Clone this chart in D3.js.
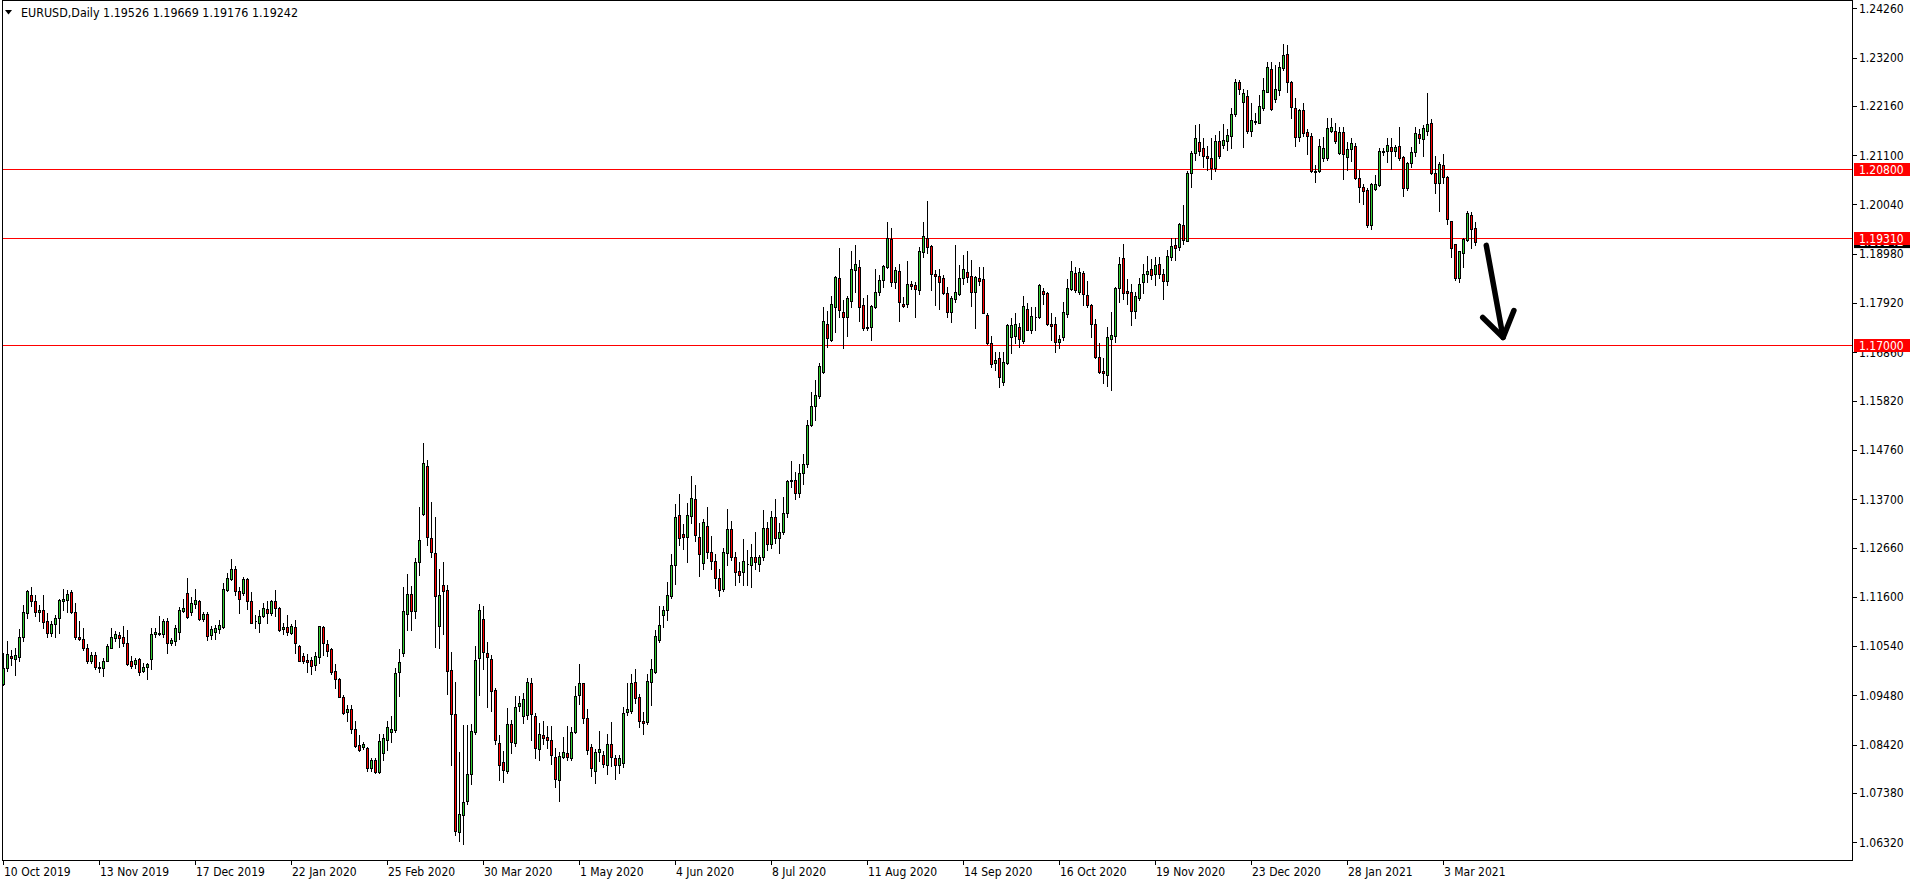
<!DOCTYPE html>
<html><head><meta charset="utf-8">
<script src="https://cdn.jsdelivr.net/npm/d3@7"></script>
<style>
html,body{margin:0;padding:0;background:#fff;overflow:hidden}
svg{display:block}
text{font-family:"DejaVu Sans Condensed","Liberation Sans",sans-serif;font-size:12px}
</style></head><body>
<svg id="chart" width="1916" height="884"></svg>
<script>
// ---------------- data ----------------
const symbol = "EURUSD,Daily";
const firstDate = "2019-10-10";
const holidays = ["2019-12-25","2020-01-01","2020-12-25","2021-01-01"];

const open = [
1.0973,1.1006,1.1033,1.1026,1.1030,1.1073,1.1125,1.1164,1.1151,1.1127,
1.1132,1.1108,1.1082,1.1101,1.1114,1.1152,1.1153,1.1170,1.1127,1.1074,
1.1069,1.1051,1.1022,1.1035,1.1009,1.1008,1.1022,1.1051,1.1072,1.1078,
1.1073,1.1060,1.1022,1.1015,1.1026,1.1001,1.1010,1.1026,1.1079,1.1079,
1.1080,1.1107,1.1060,1.1064,1.1085,1.1130,1.1169,1.1128,1.1144,1.1151,
1.1112,1.1123,1.1078,1.1085,1.1090,1.1096,1.1175,1.1198,1.1219,1.1173,
1.1168,1.1198,1.1151,1.1107,1.1104,1.1119,1.1134,1.1126,1.1151,1.1135,
1.1090,1.1095,1.1083,1.1095,1.1054,1.1033,1.1024,1.1024,1.1013,1.1031,
1.1096,1.1059,1.1047,1.1001,1.0983,1.0945,1.0912,1.0918,1.0875,1.0841,
1.0836,1.0834,1.0791,1.0809,1.0784,1.0825,1.0853,1.0870,1.0874,1.0999,
1.1039,1.1124,1.1167,1.1129,1.1234,1.1338,1.1441,1.1286,1.1255,1.1098,
1.1186,1.1174,1.1003,1.0908,1.0655,1.0691,1.0720,1.0779,1.0870,1.1029,
1.1113,1.1040,1.1027,1.0959,1.0846,1.0805,1.0786,1.0886,1.0845,1.0926,
1.0903,1.0905,1.0975,1.0903,1.0832,1.0862,1.0858,1.0853,1.0815,1.0767,
1.0815,1.0824,1.0813,1.0870,1.0948,1.0974,1.0899,1.0836,1.0786,1.0827,
1.0820,1.0799,1.0843,1.0813,1.0799,1.0803,1.0913,1.0915,1.0977,1.0945,
1.0893,1.0891,1.0977,1.0998,1.1067,1.1122,1.1131,1.1162,1.1229,1.1335,
1.1295,1.1288,1.1333,1.1370,1.1288,1.1232,1.1313,1.1257,1.1238,1.1200,
1.1176,1.1254,1.1305,1.1246,1.1215,1.1213,1.1231,1.1229,1.1246,1.1231,
1.1246,1.1309,1.1274,1.1332,1.1287,1.1300,1.1341,1.1410,1.1412,1.1383,
1.1426,1.1446,1.1530,1.1570,1.1591,1.1644,1.1746,1.1713,1.1784,1.1845,
1.1772,1.1763,1.1797,1.1863,1.1869,1.1787,1.1741,1.1740,1.1784,1.1815,
1.1842,1.1870,1.1930,1.1838,1.1861,1.1791,1.1791,1.1834,1.1830,1.1819,
1.1901,1.1931,1.1914,1.1855,1.1850,1.1845,1.1813,1.1773,1.1801,1.1811,
1.1845,1.1859,1.1850,1.1815,1.1846,1.1843,1.1766,1.1707,1.1662,1.1673,
1.1622,1.1662,1.1720,1.1721,1.1741,1.1711,1.1779,1.1734,1.1762,1.1761,
1.1817,1.1813,1.1747,1.1747,1.1708,1.1718,1.1769,1.1822,1.1856,1.1816,
1.1856,1.1809,1.1788,1.1746,1.1675,1.1646,1.1637,1.1714,1.1722,1.1824,
1.1888,1.1818,1.1816,1.1774,1.1802,1.1838,1.1854,1.1865,1.1854,1.1875,
1.1854,1.1840,1.1892,1.1916,1.1912,1.1960,1.1926,1.2071,1.2114,1.2138,
1.2125,1.2108,1.2103,1.2082,1.2141,1.2132,1.2141,1.2152,1.2199,1.2267,
1.2224,1.2237,1.2161,1.2184,1.2180,1.2211,1.2247,1.2295,1.2230,1.2250,
1.2297,1.2327,1.2267,1.2211,1.2150,1.2207,1.2159,1.2152,1.2076,1.2075,
1.2105,1.2103,1.2161,1.2161,1.2114,1.2159,1.2107,1.2123,1.2129,1.2060,
1.2041,1.2035,1.1960,1.2037,1.2046,1.2117,1.2118,1.2128,1.2118,1.2130,
1.2106,1.2039,1.2093,1.2116,1.2155,1.2144,1.2161,1.2179,1.2071,1.2050,
1.2088,1.2064,1.1968,1.1918,1.1845,1.1900,1.1928,1.1981,1.19526];

const high = [
1.1039,1.1065,1.1046,1.1049,1.1090,1.1142,1.1175,1.1182,1.1164,1.1142,
1.1164,1.1126,1.1107,1.1121,1.1155,1.1176,1.1175,1.1175,1.1146,1.1107,
1.1092,1.1058,1.1041,1.1041,1.1019,1.1028,1.1058,1.1092,1.1087,1.1085,
1.1098,1.1089,1.1033,1.1029,1.1029,1.1017,1.1018,1.1092,1.1094,1.1119,
1.1112,1.1114,1.1071,1.1099,1.1139,1.1155,1.1201,1.1160,1.1176,1.1153,
1.1128,1.1128,1.1098,1.1099,1.1110,1.1189,1.1211,1.1241,1.1226,1.1182,
1.1202,1.1200,1.1171,1.1121,1.1132,1.1146,1.1150,1.1153,1.1175,1.1139,
1.1103,1.1121,1.1101,1.1110,1.1056,1.1039,1.1036,1.1031,1.1041,1.1097,
1.1097,1.1067,1.1051,1.1015,1.0986,1.0949,1.0927,1.0927,1.0892,1.0863,
1.0848,1.0838,1.0813,1.0813,1.0864,1.0866,1.0893,1.0904,1.1007,1.1048,
1.1181,1.1210,1.1184,1.1243,1.1353,1.1491,1.1454,1.1364,1.1331,1.1219,
1.1234,1.1186,1.1041,1.0977,1.0826,1.0884,1.0884,1.0886,1.1055,1.1145,
1.1141,1.1062,1.1034,1.0964,1.0862,1.0829,1.0921,1.0896,1.0946,1.0946,
1.0953,1.0986,1.0986,1.0910,1.0889,1.0893,1.0882,1.0883,1.0834,1.0826,
1.0858,1.0883,1.0880,1.0969,1.1015,1.0975,1.0919,1.0843,1.0832,1.0872,
1.0829,1.0864,1.0891,1.0820,1.0820,1.0924,1.0975,1.0994,1.1005,1.0950,
1.0912,1.0994,1.1026,1.1089,1.1141,1.1141,1.1193,1.1253,1.1359,1.1381,
1.1316,1.1362,1.1419,1.1400,1.1319,1.1327,1.1353,1.1291,1.1253,1.1219,
1.1265,1.1348,1.1324,1.1257,1.1236,1.1284,1.1260,1.1274,1.1300,1.1250,
1.1346,1.1320,1.1345,1.1371,1.1318,1.1375,1.1412,1.1452,1.1429,1.1446,
1.1468,1.1540,1.1601,1.1627,1.1662,1.1783,1.1775,1.1807,1.1850,1.1910,
1.1799,1.1807,1.1905,1.1917,1.1885,1.1802,1.1809,1.1788,1.1865,1.1852,
1.1874,1.1966,1.1953,1.1869,1.1877,1.1806,1.1883,1.1840,1.1837,1.1912,
1.1966,1.2012,1.1917,1.1863,1.1865,1.1852,1.1827,1.1808,1.1917,1.1874,
1.1895,1.1903,1.1885,1.1851,1.1870,1.1870,1.1771,1.1722,1.1687,1.1687,
1.1687,1.1747,1.1759,1.1770,1.1748,1.1807,1.1793,1.1784,1.1783,1.1834,
1.1824,1.1816,1.1771,1.1763,1.1723,1.1795,1.1843,1.1882,1.1870,1.1867,
1.1860,1.1840,1.1791,1.1757,1.1705,1.1673,1.1741,1.1773,1.1827,1.1892,
1.1920,1.1843,1.1834,1.1816,1.1845,1.1877,1.1894,1.1886,1.1890,1.1890,
1.1865,1.1906,1.1931,1.1931,1.1965,1.2003,1.2075,1.2120,1.2175,1.2177,
1.2146,1.2130,1.2146,1.2154,1.2163,1.2177,1.2166,1.2212,1.2273,1.2272,
1.2252,1.2250,1.2222,1.2200,1.2240,1.2277,1.2310,1.2310,1.2303,1.2310,
1.2349,1.2346,1.2270,1.2232,1.2209,1.2223,1.2166,1.2157,1.2089,1.2145,
1.2150,1.2189,1.2189,1.2179,1.2171,1.2171,1.2139,1.2146,1.2136,1.2078,
1.2047,1.2039,1.2051,1.2067,1.2125,1.2125,1.2146,1.2148,1.2132,1.2170,
1.2108,1.2096,1.2127,1.2170,1.2166,1.2176,1.2243,1.2187,1.2109,1.2095,
1.2112,1.2066,1.1969,1.1920,1.1905,1.1931,1.1990,1.1988,1.19669];

const low = [
1.0970,1.1001,1.1013,1.0992,1.1023,1.1066,1.1115,1.1140,1.1119,1.1107,
1.1094,1.1074,1.1076,1.1074,1.1082,1.1132,1.1128,1.1126,1.1069,1.1067,
1.1046,1.1018,1.1017,1.1005,1.0998,1.0990,1.1021,1.1049,1.1064,1.1053,
1.1054,1.1013,1.1008,1.1006,1.0992,1.0998,1.0983,1.1004,1.1074,1.1078,
1.1074,1.1040,1.1056,1.1056,1.1069,1.1128,1.1114,1.1121,1.1137,1.1110,
1.1108,1.1067,1.1069,1.1069,1.1083,1.1094,1.1173,1.1197,1.1164,1.1126,
1.1164,1.1134,1.1103,1.1094,1.1085,1.1116,1.1104,1.1121,1.1119,1.1087,
1.1079,1.1078,1.1079,1.1039,1.1021,1.1017,1.0999,1.0993,1.1003,1.1018,
1.1035,1.1033,1.0995,1.0963,1.0944,1.0909,1.0892,1.0868,1.0838,1.0828,
1.0832,1.0785,1.0785,1.0780,1.0782,1.0809,1.0831,1.0848,1.0870,1.0946,
1.1032,1.1089,1.1089,1.1115,1.1207,1.1336,1.1272,1.1245,1.1053,1.1050,
1.1079,1.0951,1.0798,1.0648,1.0634,1.0629,1.0715,1.0758,1.0865,1.0948,
1.1005,1.0924,1.0915,1.0843,1.0767,1.0762,1.0782,1.0824,1.0839,1.0915,
1.0889,1.0898,1.0851,1.0813,1.0808,1.0843,1.0834,1.0801,1.0750,1.0721,
1.0813,1.0808,1.0810,1.0867,1.0929,1.0889,1.0822,1.0775,1.0760,1.0807,
1.0794,1.0779,1.0796,1.0769,1.0782,1.0794,1.0905,1.0910,1.0931,1.0880,
1.0864,1.0886,1.0927,1.0996,1.1062,1.1096,1.1110,1.1157,1.1188,1.1272,
1.1262,1.1235,1.1319,1.1281,1.1205,1.1219,1.1243,1.1219,1.1178,1.1162,
1.1172,1.1229,1.1240,1.1186,1.1191,1.1186,1.1186,1.1181,1.1219,1.1216,
1.1240,1.1260,1.1264,1.1275,1.1254,1.1295,1.1331,1.1397,1.1371,1.1375,
1.1402,1.1440,1.1527,1.1540,1.1587,1.1641,1.1698,1.1710,1.1730,1.1761,
1.1696,1.1722,1.1784,1.1816,1.1754,1.1734,1.1733,1.1713,1.1781,1.1809,
1.1826,1.1867,1.1829,1.1824,1.1754,1.1783,1.1783,1.1822,1.1763,1.1811,
1.1892,1.1900,1.1820,1.1788,1.1779,1.1811,1.1763,1.1752,1.1795,1.1809,
1.1834,1.1838,1.1786,1.1738,1.1831,1.1770,1.1704,1.1655,1.1648,1.1612,
1.1616,1.1661,1.1685,1.1705,1.1697,1.1707,1.1733,1.1728,1.1733,1.1759,
1.1790,1.1745,1.1713,1.1687,1.1695,1.1713,1.1761,1.1820,1.1816,1.1811,
1.1788,1.1784,1.1718,1.1673,1.1641,1.1621,1.1614,1.1604,1.1709,1.1795,
1.1800,1.1790,1.1745,1.1760,1.1799,1.1813,1.1838,1.1843,1.1831,1.1845,
1.1800,1.1831,1.1885,1.1885,1.1906,1.1920,1.1926,1.2041,1.2100,1.2110,
1.2084,1.2078,1.2058,1.2075,1.2103,1.2125,1.2121,1.2126,1.2194,1.2241,
1.2128,1.2157,1.2151,1.2177,1.2179,1.2207,1.2245,1.2207,1.2225,1.2240,
1.2293,1.2245,1.2191,1.2130,1.2141,1.2151,1.2112,1.2073,1.2053,1.2073,
1.2098,1.2100,1.2159,1.2137,1.2113,1.2058,1.2078,1.2097,1.2059,1.2010,
1.2004,1.1956,1.1951,1.2035,1.2044,1.2110,1.2096,1.2080,1.2108,1.2100,
1.2023,1.2035,1.2085,1.2108,1.2137,1.2108,1.2154,1.2069,1.2028,1.1991,
1.2050,1.1962,1.1892,1.1842,1.1837,1.1869,1.1926,1.1910,1.19176];

const close = [
1.1006,1.1036,1.1028,1.1035,1.1073,1.1127,1.1173,1.1150,1.1127,1.1132,
1.1105,1.1082,1.1101,1.1114,1.1153,1.1155,1.1166,1.1128,1.1074,1.1069,
1.1051,1.1021,1.1035,1.1010,1.1008,1.1022,1.1054,1.1073,1.1079,1.1072,
1.1060,1.1016,1.1012,1.1024,1.0999,1.1010,1.1016,1.1080,1.1085,1.1082,
1.1107,1.1061,1.1067,1.1094,1.1132,1.1135,1.1117,1.1147,1.1153,1.1112,
1.1123,1.1076,1.1091,1.1094,1.1099,1.1176,1.1200,1.1220,1.1173,1.1155,
1.1198,1.1152,1.1104,1.1108,1.1119,1.1135,1.1126,1.1151,1.1135,1.1089,
1.1095,1.1084,1.1097,1.1060,1.1023,1.1021,1.1019,1.1012,1.1033,1.1097,
1.1061,1.1044,1.0998,1.0983,1.0945,1.0911,1.0918,1.0875,1.0840,1.0831,
1.0843,1.0791,1.0809,1.0784,1.0850,1.0856,1.0881,1.0875,1.0996,1.1020,
1.1129,1.1167,1.1129,1.1234,1.1283,1.1448,1.1288,1.1257,1.1162,1.1165,
1.1172,1.1000,1.0908,1.0656,1.0693,1.0718,1.0779,1.0872,1.1024,1.1131,
1.1041,1.1031,1.0958,1.0851,1.0798,1.0788,1.0886,1.0848,1.0924,1.0931,
1.0940,1.0977,1.0908,1.0834,1.0865,1.0857,1.0851,1.0820,1.0769,1.0817,
1.0826,1.0815,1.0869,1.0946,1.0975,1.0899,1.0831,1.0791,1.0827,1.0832,
1.0801,1.0843,1.0815,1.0799,1.0813,1.0910,1.0919,1.0975,1.0943,1.0893,
1.0889,1.0978,1.1005,1.1075,1.1100,1.1131,1.1164,1.1229,1.1331,1.1286,
1.1289,1.1335,1.1372,1.1293,1.1253,1.1321,1.1257,1.1238,1.1200,1.1174,
1.1257,1.1305,1.1245,1.1213,1.1207,1.1238,1.1230,1.1246,1.1235,1.1245,
1.1309,1.1274,1.1332,1.1287,1.1300,1.1341,1.1410,1.1412,1.1383,1.1426,
1.1446,1.1530,1.1570,1.1595,1.1657,1.1753,1.1716,1.1789,1.1847,1.1777,
1.1763,1.1802,1.1865,1.1877,1.1784,1.1738,1.1738,1.1785,1.1815,1.1842,
1.1871,1.1931,1.1838,1.1862,1.1795,1.1786,1.1834,1.1829,1.1822,1.1905,
1.1936,1.1912,1.1854,1.1851,1.1838,1.1813,1.1773,1.1802,1.1815,1.1845,
1.1865,1.1847,1.1816,1.1847,1.1840,1.1771,1.1705,1.1660,1.1669,1.1632,
1.1666,1.1745,1.1745,1.1747,1.1715,1.1786,1.1734,1.1764,1.1763,1.1831,
1.1811,1.1746,1.1743,1.1708,1.1714,1.1772,1.1824,1.1861,1.1820,1.1858,
1.1811,1.1788,1.1746,1.1675,1.1644,1.1641,1.1720,1.1723,1.1824,1.1875,
1.1813,1.1814,1.1774,1.1807,1.1834,1.1854,1.1861,1.1852,1.1874,1.1855,
1.1840,1.1893,1.1915,1.1911,1.1962,1.1928,1.2071,1.2114,1.2148,1.2120,
1.2109,1.2105,1.2082,1.2141,1.2109,1.2142,1.2153,1.2199,1.2267,1.2252,
1.2243,1.2161,1.2186,1.2181,1.2215,1.2250,1.2299,1.2209,1.2252,1.2299,
1.2326,1.2268,1.2214,1.2150,1.2207,1.2157,1.2152,1.2075,1.2074,1.2130,
1.2125,1.2169,1.2171,1.2141,1.2159,1.2112,1.2123,1.2136,1.2060,1.2042,
1.2034,1.1960,1.2048,1.2049,1.2119,1.2119,1.2132,1.2118,1.2128,1.2103,
1.2040,1.2094,1.2116,1.2157,1.2148,1.2168,1.2177,1.2071,1.2050,1.2091,
1.2064,1.1972,1.1910,1.1845,1.1903,1.1930,1.1986,1.1951,1.19242];

const yTickLabels = ["1.24260","1.23200","1.22160","1.21100","1.20040","1.18980","1.17920","1.16860",
  "1.15820","1.14760","1.13700","1.12660","1.11600","1.10540","1.09480","1.08420","1.07380","1.06320"];
const xTickLabels = ["10 Oct 2019","13 Nov 2019","17 Dec 2019","22 Jan 2020","25 Feb 2020","30 Mar 2020",
  "1 May 2020","4 Jun 2020","8 Jul 2020","11 Aug 2020","14 Sep 2020","16 Oct 2020","19 Nov 2020",
  "23 Dec 2020","28 Jan 2021","3 Mar 2021"];
const levels = [1.20800, 1.19310, 1.17000];
// hand-drawn arrow annotation (bar index, price)
const arrowFrom = {bar: 370.7, price: 1.1916};
const arrowTo   = {bar: 374.9, price: 1.1718};
const arrowArms = [{bar: 369.8, price: 1.1761}, {bar: 377.6, price: 1.1776}];

// ---------------- chart ----------------
const svg = d3.select("#chart");
const plotLeft = 2, plotRight = 1852, plotBottom = 860;
const n = open.length;

const parse = d3.utcParse("%Y-%m-%d"), fmtKey = d3.utcFormat("%Y-%m-%d"), fmtLabel = d3.utcFormat("%-d %b %Y");
const dates = [];
let d = parse(firstDate);
while (dates.length < n) {
  const wd = d.getUTCDay();
  if (wd !== 0 && wd !== 6 && !holidays.includes(fmtKey(d))) dates.push(d);
  d = d3.utcDay.offset(d, 1);
}
const bars = d3.range(n).map(i => ({i, date: dates[i], o: open[i], h: high[i], l: low[i], c: close[i]}));

const x = d3.scaleLinear().domain([0, n - 1]).range([3.5, 3.5 + 4 * (n - 1)]);
const y = d3.scaleLinear().domain([+yTickLabels[yTickLabels.length - 1], +yTickLabels[0]]).range([842.3, 8.3]);
const py = v => Math.round(y(v)) + 0.5;

const BULL = "#32CD32", BEAR = "#FF0000";

// frame
const frame = svg.append("g").attr("shape-rendering", "crispEdges").attr("stroke", "#000").attr("stroke-width", 1);
frame.append("line").attr("x1", plotLeft + 0.5).attr("x2", plotLeft + 0.5).attr("y1", 0).attr("y2", plotBottom + 1);
frame.append("line").attr("x1", plotLeft).attr("x2", plotRight + 1).attr("y1", 0.5).attr("y2", 0.5);
frame.append("line").attr("x1", plotRight + 0.5).attr("x2", plotRight + 0.5).attr("y1", 0).attr("y2", plotBottom + 1);
frame.append("line").attr("x1", plotLeft).attr("x2", plotRight + 1).attr("y1", plotBottom + 0.5).attr("y2", plotBottom + 0.5);

// horizontal levels
svg.append("g").attr("shape-rendering", "crispEdges").selectAll("line").data(levels).join("line")
  .attr("x1", plotLeft + 1).attr("x2", plotRight).attr("y1", v => Math.floor(y(v)) + 0.5).attr("y2", v => Math.floor(y(v)) + 0.5)
  .attr("stroke", "#FF0000").attr("stroke-width", 1);

// candles
const cg = svg.append("g").attr("shape-rendering", "crispEdges");
cg.selectAll("line").data(bars).join("line")
  .attr("x1", b => x(b.i)).attr("x2", b => x(b.i))
  .attr("y1", b => Math.round(y(b.h))).attr("y2", b => Math.round(y(b.l)) + 1)
  .attr("stroke", "#000").attr("stroke-width", 1);
cg.selectAll("path").data(bars).join("path")
  .attr("d", b => {
    const cx = x(b.i), t = py(Math.max(b.o, b.c)), bt = py(Math.min(b.o, b.c));
    return `M${cx - 1},${t}H${cx + 1}V${bt}H${cx - 1}Z`;
  })
  .attr("fill", b => b.c >= b.o ? BULL : BEAR)
  .attr("stroke", "#000").attr("stroke-width", 1);

// y axis ticks + labels
const ya = svg.append("g");
ya.selectAll("line").data(yTickLabels).join("line").attr("shape-rendering", "crispEdges")
  .attr("x1", plotRight + 1).attr("x2", plotRight + 5)
  .attr("y1", t => Math.round(y(+t)) + 0.5).attr("y2", t => Math.round(y(+t)) + 0.5)
  .attr("stroke", "#000");
ya.selectAll("text").data(yTickLabels).join("text")
  .attr("x", plotRight + 7).attr("y", t => y(+t)).attr("dy", "0.36em").attr("fill", "#000").text(t => t);

// current price label (black) then level labels (red)
const last = bars[n - 1];
const lab = svg.append("g");
const bidY = y(last.c);
lab.append("rect").attr("x", plotRight + 2).attr("y", bidY - 6.5).attr("width", 56).attr("height", 13).attr("fill", "#000");
lab.append("text").attr("x", plotRight + 7).attr("y", bidY).attr("dy", "0.36em").attr("fill", "#fff").text(d3.format(".5f")(last.c));
levels.forEach(v => {
  const yy = Math.floor(y(v)) + 0.5;
  lab.append("rect").attr("x", plotRight + 2).attr("y", yy - 6.5).attr("width", 56).attr("height", 13).attr("fill", "#FF0000");
  lab.append("text").attr("x", plotRight + 7).attr("y", yy).attr("dy", "0.36em").attr("fill", "#fff").text(d3.format(".5f")(v));
});

// x axis ticks + labels
const xa = svg.append("g");
const xt = xTickLabels.map(s => ({s, i: bars.findIndex(b => fmtLabel(b.date) === s)})).filter(t => t.i >= 0);
xa.selectAll("line").data(xt).join("line").attr("shape-rendering", "crispEdges")
  .attr("x1", t => x(t.i)).attr("x2", t => x(t.i)).attr("y1", plotBottom + 1).attr("y2", plotBottom + 5).attr("stroke", "#000");
xa.selectAll("text").data(xt).join("text")
  .attr("x", t => x(t.i) + 0.5).attr("y", 876).attr("fill", "#000").text(t => t.s);

// title
svg.append("path").attr("d", "M5,10H12L8.5,14.5Z").attr("fill", "#000");
svg.append("text").attr("x", 21).attr("y", 17).attr("fill", "#000").style("font-size", "12.4px")
  .text(`${symbol}  ${[last.o, last.h, last.l, last.c].map(d3.format(".5f")).join(" ")}`);

// arrow annotation
const ag = svg.append("g").attr("fill", "none").attr("stroke", "#000").attr("stroke-width", 5.5)
  .attr("stroke-linecap", "round").attr("stroke-linejoin", "round");
ag.append("line").attr("x1", x(arrowFrom.bar)).attr("y1", y(arrowFrom.price)).attr("x2", x(arrowTo.bar)).attr("y2", y(arrowTo.price));
ag.append("path").attr("d", d3.line()([[x(arrowArms[0].bar), y(arrowArms[0].price)], [x(arrowTo.bar), y(arrowTo.price)], [x(arrowArms[1].bar), y(arrowArms[1].price)]]));
</script>
</body></html>
